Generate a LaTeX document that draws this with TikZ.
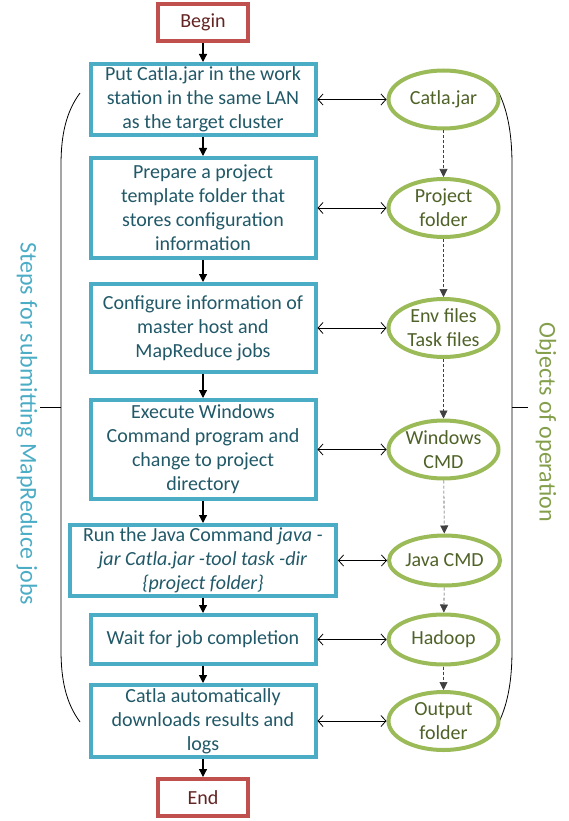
\documentclass[tikz,border=0pt]{standalone}
\usepackage{fontspec}
\setmainfont{Carlito}
\usetikzlibrary{positioning,shapes.geometric,arrows.meta}
\definecolor{stepblue}{HTML}{4BACC6}
\definecolor{steptext}{HTML}{215968}
\definecolor{objgreen}{HTML}{9BBB59}
\definecolor{objtext}{HTML}{4F6228}
\definecolor{endred}{HTML}{C0504D}
\definecolor{endtext}{HTML}{632523}

\begin{document}
\begin{tikzpicture}[x=1pt, y=1pt, font=\fontsize{20}{24}\selectfont, node distance=19pt,
    stepbox/.style={draw=stepblue, line width=4pt, fill=white, text=steptext, align=center, minimum width=225pt, inner xsep=4pt, inner ysep=0pt},
    objnode/.style={ellipse, draw=objgreen, line width=4pt, fill=white, text=objtext, align=center, minimum width=110pt, minimum height=58pt, inner xsep=0pt, inner ysep=-6pt},
    termbox/.style={draw=endred, line width=4pt, fill=white, text=endtext, minimum width=90pt, minimum height=37pt},
    flow/.style={-{Triangle[length=8pt,width=8pt]}, line width=1.2pt},
    link/.style={{Straight Barb[length=5pt,width=11pt]}-{Straight Barb[length=5pt,width=11pt]}, line width=0.8pt},
    objflow/.style={-{Triangle[length=8pt,width=8pt]}, dash pattern=on 3pt off 2pt, line width=0.6pt, draw=black!75},
    bracket/.style={line width=0.8pt}]
    \useasboundingbox (0,0) rectangle (569,-821);

    % side brackets
    \draw[bracket] (80,-93) .. controls (66,-112) and (61,-135) .. (61,-165) -- (61,-650) .. controls (61,-680) and (66,-703) .. (80,-722);
    \draw[bracket] (61,-407) -- (40,-407);
    \draw[bracket] (499,-93) .. controls (508,-112) and (512,-135) .. (512,-165) -- (512,-650) .. controls (512,-680) and (508,-703) .. (499,-722);
    \draw[bracket] (512,-407) -- (528,-407);

    \node (begin) [termbox] at (203,-22.5) {Begin};
    \node (S1) [stepbox, below=of begin, minimum height=71pt] {Put Catla.jar in the work\\station in the same LAN\\as the target cluster};
    \node (S2) [stepbox, below=of S1, minimum height=100pt] {Prepare a project\\template folder that\\stores configuration\\information};
    \node (S3) [stepbox, below=22pt of S2, minimum height=88pt] {Configure information of\\master host and\\MapReduce jobs};
    \node (S4) [stepbox, below=24pt of S3, minimum height=99pt] {Execute Windows\\Command program and\\change to project\\directory};
    \node (S5) [stepbox, below=22pt of S4, minimum height=71pt, minimum width=266pt] {Run the Java Command \textit{java -}\\\textit{jar Catla.jar -tool task -dir}\\\textit{\{project folder\}}};
    \node (S6) [stepbox, below=15pt of S5, minimum height=49pt] {Wait for job completion};
    \node (S7) [stepbox, below=17pt of S6, minimum height=72pt] {Catla automatically\\downloads results and\\logs};
    \node (finish) [termbox, below=18pt of S7] {End};

    \node (O1) [objnode, right=69pt of S1] {Catla.jar};
    \node (O2) [objnode, right=69pt of S2] {Project\\folder};
    \node (O3) [objnode, right=69pt of S3] {Env files\\Task files};
    \node (O4) [objnode, right=69pt of S4] {Windows\\CMD};
    \node (O5) [objnode, right=49pt of S5, minimum height=50pt] {Java CMD};
    \node (O6) [objnode, right=69pt of S6, minimum height=50pt] {Hadoop};
    \node (O7) [objnode, right=69pt of S7] {Output\\folder};

    \node (stepslabel) [rotate=-90, text=stepblue, font=\fontsize{24}{28}\selectfont] at (27,-424) {Steps for submitting MapReduce jobs};
    \node (objlabel) [rotate=-90, text=objgreen!85!black, font=\fontsize{24}{28}\selectfont] at (546,-422) {Objects of operation};

    \draw[flow] (begin) -- (S1);
    \draw[flow] (S1) -- (S2);
    \draw[flow] (S2) -- (S3);
    \draw[flow] (S3) -- (S4);
    \draw[flow] (S4) -- (S5);
    \draw[flow] (S5) -- (S6);
    \draw[flow] (S6) -- (S7);
    \draw[flow] (S7) -- (finish);

    \draw[link] (S1) -- (O1);
    \draw[link] (S2) -- (O2);
    \draw[link] (S3) -- (O3);
    \draw[link] (S4) -- (O4);
    \draw[link] (S5) -- (O5);
    \draw[link] (S6) -- (O6);
    \draw[link] (S7) -- (O7);

    \draw[objflow] (O1) -- (O2);
    \draw[objflow] (O2) -- (O3);
    \draw[objflow] (O3) -- (O4);
    \draw[objflow] (O4) -- (O5);
    \draw[objflow] (O5) -- (O6);
    \draw[objflow] (O6) -- (O7);
\end{tikzpicture}
\end{document}
